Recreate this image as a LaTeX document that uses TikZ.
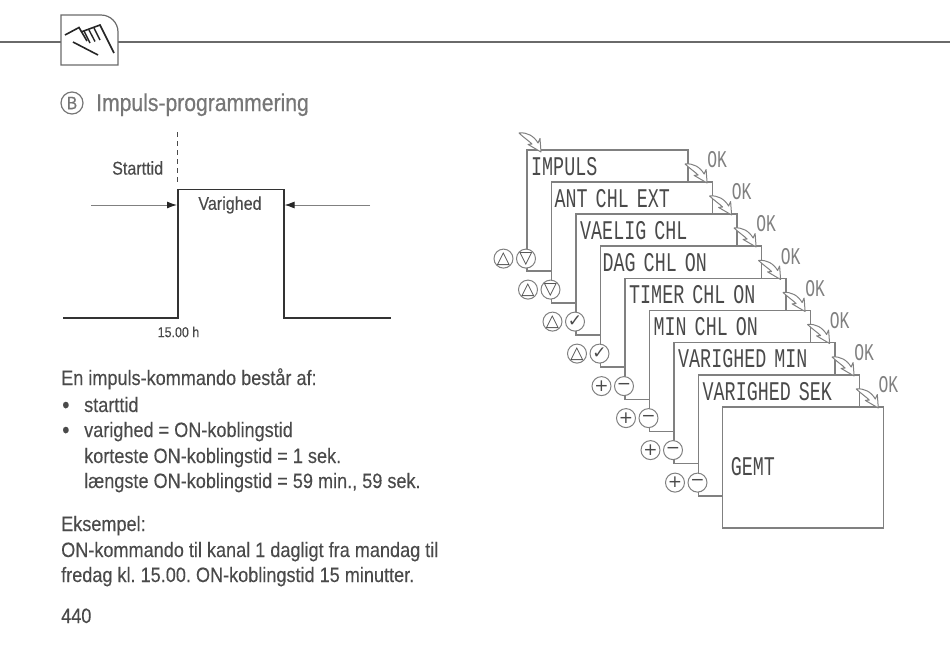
\documentclass[tikz,border=0pt]{standalone}
\usepackage{fontspec}
\setmainfont[FakeStretch=0.87,FakeBold=0.2]{Liberation Sans}
\newfontfamily\titlefont[FakeStretch=0.87,FakeBold=0.6]{Liberation Sans}
\newfontfamily\lcdfont[FakeStretch=0.68]{Liberation Mono}
\newfontfamily\symfont{DejaVu Sans}
\usepackage{xcolor}
\usepackage{tikz}
\usetikzlibrary{positioning, arrows.meta, calc}
\definecolor{linegray}{HTML}{808080}
\definecolor{rulegray}{HTML}{6A6A6A}
\definecolor{textgray}{HTML}{4A4A4A}
\definecolor{headgray}{HTML}{767676}
\newcommand{\lcdstyle}{\lcdfont\fontsize{27}{27}\selectfont\spaceskip 8pt\relax}

\tikzset{
    okpil/.pic={
        \draw [draw=linegray, fill=white, line width=1pt, line join=round]
            (-22,-19) .. controls (-14,-20) and (-7,-16) .. (-3,-9) -- (-1,-13.5) -- (0,0) -- (-13,-7.6) -- (-9,-8)
            .. controls (-12,-11) and (-18,-15) .. cycle;
    }
}

\begin{document}
\begin{tikzpicture}[
    x=1pt, y=-1pt,
    card/.style={rectangle, draw=linegray, fill=white, line width=1.6pt, anchor=north west, minimum width=161pt, minimum height=121pt, inner sep=0pt},
    lcd/.style={anchor=base west, inner sep=0pt, text=textgray, font=\lcdstyle},
    oktext/.style={inner sep=0pt, text=linegray, font=\lcdfont\fontsize{24}{24}\selectfont},
    knap/.style={circle, draw=linegray, fill=white, line width=1pt, minimum size=19pt, inner sep=0pt, text=textgray, font=\symfont\fontsize{17}{17}\selectfont},
    body/.style={anchor=base west, inner sep=0pt, text=textgray, font=\fontsize{20.8}{20.8}\selectfont},
    small/.style={inner sep=0pt, text=textgray, font=\fontsize{18.5}{18.5}\selectfont},
    pulse/.style={draw=black!80, line width=1.6pt},
    pil/.style={-{Latex[length=10pt, width=7pt, color=black!85]}, draw=linegray, line width=1pt},
    regel/.style={draw=rulegray, line width=1.2pt},
    node distance=2.5pt
]
    \useasboundingbox (0,0) rectangle (950,646);

    \draw [regel] (0,42) -- (61,42);
    \draw [regel] (118,42) -- (950,42);
    \draw [regel] (61,15) -- (101,15) arc [start angle=90, end angle=0, x radius=17, y radius=-17] -- (118,65) -- (61,65) -- cycle;
    \draw [black!85, line width=1.6pt] (65,35) -- (79,27.5) -- (87,41);
    \draw [black!85, line width=1.6pt] (81,32) -- (100,25) -- (114,53);
    \draw [black!85, line width=1.4pt] (84,31) -- (90,43) (89,30) -- (95,41.5) (94,28) -- (100,40);
    \draw [black!85, line width=1.6pt] (73,42) -- (98,55);

    \node [circle, draw=headgray, line width=1.2pt, minimum size=22pt, inner sep=0pt, text=headgray, font=\titlefont\fontsize{18}{18}\selectfont] (bmark) at (72,103) {B};
    \node [body, text=headgray, font=\titlefont\fontsize{24.3}{24.3}\selectfont] (title) at (96,111) {Impuls-programmering};

    \coordinate (p0) at (63,318);
    \coordinate (p1) at (177.7,318);
    \coordinate (p2) at (177.7,189.3);
    \coordinate (p3) at (283.7,189.3);
    \coordinate (p4) at (283.7,318);
    \coordinate (p5) at (390.7,318);
    \coordinate (d0) at (177.7,132);
    \coordinate (d1) at (177.7,182);
    \coordinate (a0) at (91,205);
    \coordinate (a1) at (177,205);
    \coordinate (b0) at (370,205);
    \coordinate (b1) at (284.5,205);
    \draw [pulse] (p0) -- (p1) -- (p2) -- (p3) -- (p4) -- (p5);
    \draw [draw=textgray, line width=0.8pt, dash pattern=on 5pt off 4pt] (d0) -- (d1);
    \draw [pil] (a0) -- (a1);
    \draw [pil] (b0) -- (b1);
    \node [small] (starttid) at (137.7,168) {Starttid};
    \node [small] (varighed) at (230,205) {Varighed};
    \node [small, font=\fontsize{14.3}{14.3}\selectfont] (klok) at (178.5,332) {15.00 h};

    \node [body] (intro) at (61,385) {En impuls-kommando består af:};
    \node [body, font=\fontsize{24}{24}\selectfont] (bul1) at (62,413) {•};
    \node [body, font=\fontsize{24}{24}\selectfont] (bul2) at (62,438) {•};
    \node [body] (l1) at (84,412) {starttid};
    \node [body] (l2) at (84,437) {varighed = ON-koblingstid};
    \node [body] (l3) at (84,463) {korteste ON-koblingstid = 1 sek.};
    \node [body] (l4) at (84,488) {længste ON-koblingstid = 59 min., 59 sek.};
    \node [body] (eks) at (61,531) {Eksempel:};
    \node [body] (e1) at (61,557) {ON-kommando til kanal 1 dagligt fra mandag til};
    \node [body] (e2) at (61,582) {fredag kl.\ 15.00.\ ON-koblingstid 15 minutter.};
    \node [body] (side) at (61,623) {440};

    \node [card] (impuls) at (526,149) {};
    \node [lcd] (impulstxt) at ($(impuls.north west)+(5,26)$) {IMPULS};
    \node [knap] (ned1) at ($(impuls.south west)+(0,-13)$) {▽};
    \node [knap, left=of ned1] (op1) {△};

    \node [card] (ant) at (550.5,181) {};
    \node [lcd] (anttxt) at ($(ant.north west)+(4,26)$) {ANT CHL EXT};
    \node [knap] (ned2) at ($(ant.south west)+(0,-14)$) {▽};
    \node [knap, left=of ned2] (op2) {△};

    \node [card] (vaelg) at (575,213) {};
    \node [lcd] (vaelgtxt) at ($(vaelg.north west)+(5,26)$) {VAELIG CHL};
    \node [knap] (ok3) at ($(vaelg.south west)+(0,-14)$) {✓};
    \node [knap, left=of ok3] (op3) {△};

    \node [card] (dag) at (599.5,245) {};
    \node [lcd] (dagtxt) at ($(dag.north west)+(3,26)$) {DAG CHL ON};
    \node [knap] (ok4) at ($(dag.south west)+(0,-14)$) {✓};
    \node [knap, left=of ok4] (op4) {△};

    \node [card] (timer) at (624,277.5) {};
    \node [lcd] (timertxt) at ($(timer.north west)+(5,26)$) {TIMER CHL ON};
    \node [knap] (minus5) at ($(timer.south west)+(0,-14)$) {−};
    \node [knap, left=of minus5] (plus5) {+};

    \node [card] (minchl) at (648.5,309.5) {};
    \node [lcd] (minchltxt) at ($(minchl.north west)+(5,26)$) {MIN CHL ON};
    \node [knap] (minus6) at ($(minchl.south west)+(0,-14)$) {−};
    \node [knap, left=of minus6] (plus6) {+};

    \node [card] (varmin) at (673,341.5) {};
    \node [lcd] (varmintxt) at ($(varmin.north west)+(5,26)$) {VARIGHED MIN};
    \node [knap] (minus7) at ($(varmin.south west)+(0,-14)$) {−};
    \node [knap, left=of minus7] (plus7) {+};

    \node [card] (varsek) at (697.5,374) {};
    \node [lcd] (varsektxt) at ($(varsek.north west)+(5,26)$) {VARIGHED SEK};
    \node [knap] (minus8) at ($(varsek.south west)+(0,-14)$) {−};
    \node [knap, left=of minus8] (plus8) {+};

    \node [card] (gemt) at (721.7,406) {};
    \node [lcd] (gemttxt) at ($(gemt.north west)+(9,69)$) {GEMT};

    \pic at ($(impuls.north west)+(15,3)$) {okpil};
    \pic at ($(ant.north east)+(-6,2)$) {okpil};
    \pic at ($(vaelg.north east)+(-6,2)$) {okpil};
    \pic at ($(dag.north east)+(-6,2)$) {okpil};
    \pic at ($(timer.north east)+(-6,2)$) {okpil};
    \pic at ($(minchl.north east)+(-6,2)$) {okpil};
    \pic at ($(varmin.north east)+(-6,2)$) {okpil};
    \pic at ($(varsek.north east)+(-6,2)$) {okpil};
    \pic at ($(gemt.north east)+(-6,2)$) {okpil};

    \node [oktext] (ok1txt) at ($(ant.north east)+(4,-21)$) {OK};
    \node [oktext] (ok2txt) at ($(vaelg.north east)+(4,-21)$) {OK};
    \node [oktext] (ok3txt) at ($(dag.north east)+(4,-21)$) {OK};
    \node [oktext] (ok4txt) at ($(timer.north east)+(4,-21)$) {OK};
    \node [oktext] (ok5txt) at ($(minchl.north east)+(4,-21)$) {OK};
    \node [oktext] (ok6txt) at ($(varmin.north east)+(4,-21)$) {OK};
    \node [oktext] (ok7txt) at ($(varsek.north east)+(4,-21)$) {OK};
    \node [oktext] (ok8txt) at ($(gemt.north east)+(4,-21)$) {OK};
\end{tikzpicture}
\end{document}
